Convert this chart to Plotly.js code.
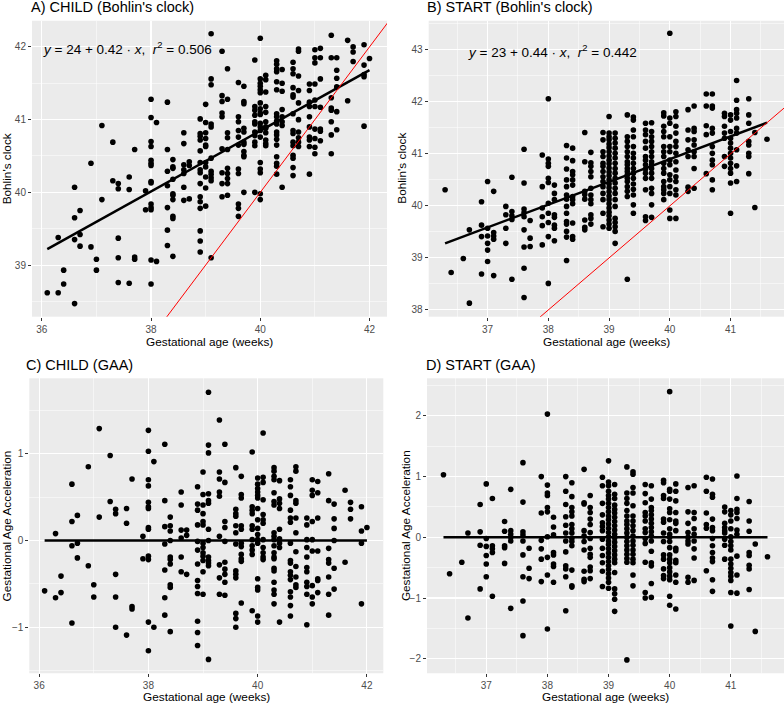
<!DOCTYPE html>
<html>
<head>
<meta charset="utf-8">
<script src="https://cdn.plot.ly/plotly-3.0.1.min.js"></script>
<style>
  html, body { margin: 0; padding: 0; background: #fff; }
  #grapharea { width: 784px; height: 705px; }
</style>
</head>
<body>
<div id="grapharea"></div>
<script>
//Gestational age columns (weeks) for each cohort
var childWeeks = [36.1, 36.3, 36.4, 36.6, 36.7, 36.9, 37.0, 37.1, 37.3, 37.4, 37.6, 37.7, 37.9, 38.0,
  38.1, 38.3, 38.4, 38.6, 38.7, 38.9, 39.0, 39.1, 39.3, 39.4, 39.6, 39.7, 39.9, 40.0, 40.1, 40.3,
  40.4, 40.6, 40.7, 40.9, 41.0, 41.1, 41.3, 41.4, 41.6, 41.7, 41.9, 42.0];
var startWeeks = [36.3, 36.4, 36.6, 36.7, 36.9, 37.0, 37.1, 37.3, 37.4, 37.6, 37.7, 37.9, 38.0, 38.1,
  38.3, 38.4, 38.6, 38.7, 38.9, 39.0, 39.1, 39.3, 39.4, 39.6, 39.7, 39.9, 40.0, 40.1, 40.3, 40.4,
  40.6, 40.7, 40.9, 41.0, 41.1, 41.3, 41.4, 41.6];

//CHILD, Bohlin's clock, one list per age column
var childClock = [
  [38.62],
  [39.38, 38.62],
  [38.93, 38.74],
  [40.07, 39.65, 39.35, 38.47],
  [39.75, 39.42, 39.26],
  [40.40, 39.25],
  [39.08, 38.93],
  [40.92, 39.90],
  [40.69, 40.16],
  [40.12, 40.05, 39.37, 39.10, 38.76],
  [40.21, 40.04, 38.75],
  [40.59, 39.11, 39.08],
  [40.02, 39.76],
  [41.28, 41.03, 40.70, 40.63, 40.44, 40.40, 40.37, 40.15, 40.13, 39.84, 39.79, 39.76, 39.07, 38.74],
  [40.96, 39.05],
  [41.24, 40.59, 40.29, 40.09, 39.79, 39.48, 39.27],
  [40.45, 40.35, 40.33, 40.18, 39.98, 39.96, 39.90, 39.67, 39.64, 39.12],
  [40.82, 40.67, 40.38, 40.31, 40.26, 40.07, 39.89],
  [40.42, 40.37, 39.91],
  [41.01, 40.81, 40.77, 40.72, 40.57, 40.41, 40.31, 40.27, 40.12, 39.94, 39.87, 39.78, 39.47, 39.33, 39.18],
  [41.21, 40.96, 40.82, 40.74, 40.65, 40.63, 40.41, 40.35, 40.21, 40.06, 39.81],
  [42.18, 41.56, 41.48, 40.94, 40.90, 40.47, 40.29, 40.25, 40.20, 40.16, 39.10],
  [41.94, 41.33, 41.25, 41.09, 41.04, 40.60, 40.27, 40.12, 39.94],
  [41.70, 41.28, 40.82, 40.75, 40.59, 40.33, 40.26, 40.19, 40.12, 39.96],
  [41.51, 41.04, 40.97, 40.85, 40.76, 40.65, 40.32, 40.26, 39.84, 39.78, 39.67],
  [41.46, 41.25, 41.22, 40.88, 40.83, 40.69, 40.66, 40.56, 40.51, 40.49, 40.00],
  [41.82, 41.18, 41.13, 41.06, 40.97, 40.94, 40.83, 40.78, 40.69, 40.64, 40.00],
  [42.12, 41.56, 41.50, 41.46, 41.41, 41.37, 41.23, 41.15, 41.09, 41.07, 40.95, 40.90, 40.85, 40.76, 40.41, 40.32, 40.27, 39.98, 39.90],
  [41.61, 41.55, 41.38, 41.18, 41.10, 40.97, 40.90, 40.88, 40.82, 40.72, 40.67, 40.64],
  [41.81, 41.76, 41.70, 41.66, 41.52, 41.41, 41.08, 41.04, 40.98, 40.94, 40.83, 40.79, 40.73, 40.65, 40.49, 40.40, 40.36, 40.25],
  [41.69, 41.50, 41.39, 41.14, 41.04, 40.97, 40.92, 40.07],
  [41.79, 41.70, 41.63, 41.44, 41.34, 41.31, 41.08, 40.85, 40.81, 40.69, 40.64, 40.51, 40.47, 40.34, 40.23],
  [41.97, 41.94, 41.60, 41.40, 41.23, 41.00, 40.83, 40.75, 40.69, 40.63],
  [41.49, 41.40, 41.24, 41.18, 41.04, 40.90, 40.76, 40.72, 40.63, 40.25],
  [41.96, 41.85, 41.78, 41.49, 41.27, 41.18, 40.87, 40.74, 40.62, 40.53],
  [41.98, 41.85, 41.56, 41.17, 40.87, 40.84, 40.71],
  [42.16, 41.85, 41.30, 41.16, 41.13, 40.97, 40.79, 40.53],
  [41.85, 41.68, 41.57, 41.45, 41.11, 40.86],
  [42.09, 41.26],
  [42.00, 41.93, 41.80],
  [42.03, 41.75, 41.62, 41.59, 40.91],
  [41.84]
];

//START, Bohlin's clock
var startClock = [
  [40.31],
  [38.72],
  [38.99],
  [39.54, 38.13],
  [40.08, 39.63, 39.41, 38.69],
  [40.47, 39.57, 39.42, 39.28, 39.15, 38.93],
  [40.28, 39.49, 39.42, 39.36, 38.66],
  [39.99, 39.83, 39.57, 39.28],
  [40.55, 39.89, 39.81, 39.74, 38.59],
  [41.09, 40.44, 39.94, 39.87, 39.79, 39.54, 39.21, 38.80, 38.24],
  [39.72, 39.38, 39.22],
  [40.98, 40.37, 39.96, 39.79, 39.62, 39.25],
  [42.06, 40.90, 40.82, 40.76, 40.53, 40.45, 40.05, 39.86, 39.68, 39.41, 38.51],
  [40.40, 40.24, 40.12, 39.83, 39.78, 39.63, 39.57, 39.33],
  [41.16, 40.92, 40.71, 40.50, 40.37, 40.21, 40.13, 39.99, 39.86, 39.70, 39.65, 39.51, 39.40, 38.95],
  [41.11, 40.87, 40.66, 40.60, 40.50, 40.40, 40.18, 40.12, 40.04, 39.67, 39.41, 39.36],
  [41.41, 40.85, 40.28, 40.22, 40.13, 39.73, 39.59, 39.54],
  [41.03, 40.83, 40.76, 40.66, 40.56, 40.34, 40.21, 40.12, 40.04, 39.83, 39.76, 39.65],
  [41.41, 41.27, 41.04, 40.95, 40.82, 40.76, 40.66, 40.56, 40.47, 40.37, 40.24, 40.12, 39.86, 39.60],
  [41.72, 41.40, 41.33, 41.27, 41.19, 41.12, 41.04, 40.96, 40.88, 40.81, 40.73, 40.65, 40.58, 40.50,
   40.42, 40.35, 40.27, 40.19, 40.12, 40.04, 39.96, 39.88, 39.81, 39.73, 39.65, 39.57],
  [41.40, 41.30, 41.21, 41.11, 41.01, 40.92, 40.82, 40.72, 40.63, 40.53, 40.44, 40.34, 40.24, 40.12,
   39.99, 39.76, 39.68, 39.60, 39.51, 39.28],
  [41.75, 41.33, 41.24, 41.14, 41.04, 40.95, 40.85, 40.79, 40.72, 40.66, 40.60, 40.53, 40.47, 40.37, 40.28, 40.18, 38.59],
  [41.71, 41.65, 41.46, 41.33, 41.14, 41.01, 40.92, 40.82, 40.72, 40.63, 40.53, 40.42, 40.32, 40.21, 40.02, 39.86],
  [41.59, 41.46, 41.37, 41.24, 41.11, 40.95, 40.88, 40.79, 40.71, 40.63, 40.53, 40.31, 39.79, 39.72],
  [41.60, 41.43, 41.33, 41.24, 41.14, 41.04, 40.95, 40.85, 40.79, 40.72, 40.63, 40.53, 40.34, 40.24, 40.02, 39.78],
  [41.79, 41.73, 41.53, 41.43, 41.33, 41.14, 41.04, 40.95, 40.82, 40.72, 40.63, 40.47, 40.37, 40.31, 40.24, 40.12],
  [43.32, 41.69, 41.59, 41.33, 41.14, 41.04, 40.88, 40.79, 40.60, 40.50, 40.37, 40.24, 39.92, 39.76],
  [41.81, 41.72, 41.53, 41.40, 41.24, 41.14, 41.01, 40.85, 40.69, 40.56, 40.47, 40.31, 40.21, 39.76],
  [41.85, 41.46, 41.27, 41.08, 40.95, 40.36, 40.28],
  [41.92, 41.49, 41.43, 41.27, 41.17, 41.04, 40.95, 40.72, 40.34],
  [42.15, 41.92, 41.54, 41.37, 40.62],
  [42.15, 41.92, 41.88, 41.49, 41.40, 41.14, 41.01, 40.88, 40.79, 40.50, 40.31],
  [41.78, 41.72, 41.53, 41.40, 41.30, 40.95, 40.76],
  [41.75, 41.65, 41.43, 41.30, 41.21, 41.11, 41.01, 40.92, 40.82, 40.72, 40.63, 40.44, 39.86],
  [42.41, 42.03, 41.85, 41.78, 41.69, 41.49, 41.40, 41.08, 40.77, 40.47],
  [42.06, 41.75, 41.59, 41.24, 41.17, 41.01, 40.95, 40.62],
  [41.41, 39.97],
  [41.28]
];

//CHILD, gestational age acceleration
var childGAA = [
  [-0.58],
  [0.08, -0.66],
  [-0.41, -0.60],
  [0.65, 0.22, -0.06, -0.95],
  [0.29, -0.03, -0.20],
  [0.85, -0.29],
  [-0.51, -0.65],
  [1.29, 0.27],
  [0.98, 0.45],
  [0.36, 0.31, -0.39, -0.65, -1.00],
  [0.37, 0.20, -1.09],
  [0.71, -0.76, -0.79],
  [0.05, -0.21],
  [1.27, 1.03, 0.70, 0.63, 0.44, 0.39, 0.37, 0.15, 0.13, -0.18, -0.22, -0.94, -1.27],
  [0.91, -1.00],
  [1.11, 0.46, 0.16, -0.04, -0.34, -0.66, -0.86],
  [0.27, 0.17, 0.11, 0.00, -0.19, -0.22, -0.27, -0.51, -0.54, -1.05],
  [0.56, 0.41, 0.12, 0.03, -0.19, -0.36],
  [0.12, 0.06, -0.39],
  [0.62, 0.42, 0.35, 0.18, -0.01, -0.11, -0.27, -0.46, -0.53, -0.61, -0.93, -1.06, -1.21],
  [0.79, 0.53, 0.41, 0.31, 0.22, 0.18, -0.03, -0.08, -0.14, -0.18, -0.23, -0.36, -0.62],
  [1.71, 1.10, 1.01, 0.54, 0.46, 0.43, 0.13, 0.00, -0.19, -0.23, -0.26, -0.29, -1.37],
  [1.39, 0.79, 0.71, 0.56, 0.51, 0.05, -0.28, -0.43, -0.62],
  [1.11, 0.67, 0.22, 0.15, -0.01, -0.25, -0.33, -0.39, -0.48, -0.63],
  [0.84, 0.36, 0.31, 0.28, 0.17, 0.09, -0.04, -0.35, -0.39, -0.43, -0.84, -0.90, -1.00],
  [0.74, 0.53, 0.49, 0.17, 0.13, -0.03, -0.07, -0.16, -0.21, -0.24, -0.72],
  [1.02, 0.39, 0.35, 0.31, 0.17, 0.13, 0.01, -0.06, -0.11, -0.16, -0.81],
  [0.72, 0.65, 0.60, 0.56, 0.52, 0.49, 0.37, 0.24, 0.14, 0.07, 0.01, -0.03, -0.44, -0.54, -0.57, -0.87, -0.94],
  [1.24, 0.73, 0.67, 0.47, 0.30, 0.24, 0.20, 0.01, -0.08, -0.14, -0.19, -0.22],
  [0.84, 0.80, 0.74, 0.70, 0.55, 0.45, 0.41, 0.09, 0.05, 0.01, -0.06, -0.14, -0.19, -0.21, -0.32, -0.35, -0.48, -0.57, -0.62, -0.73],
  [0.69, 0.48, 0.43, 0.37, 0.13, 0.02, -0.03, -0.08, -0.94],
  [0.70, 0.62, 0.52, 0.35, 0.26, 0.21, -0.03, -0.23, -0.26, -0.36, -0.40, -0.45, -0.59, -0.65, -0.75, -0.87],
  [0.85, 0.80, 0.46, 0.43, 0.26, 0.09, -0.13, -0.30, -0.42, -0.51, -0.54],
  [0.26, 0.18, 0.01, -0.08, -0.19, -0.31, -0.36, -0.48, -0.53, -0.62, -0.97],
  [0.70, 0.58, 0.52, 0.22, 0.01, -0.12, -0.52, -0.65, -0.73],
  [0.68, 0.55, 0.26, -0.12, -0.44, -0.46, -0.60],
  [0.77, 0.46, -0.09, -0.22, -0.26, -0.42, -0.62, -0.86],
  [0.42, 0.25, 0.14, 0.00, -0.32, -0.56],
  [0.58, -0.25],
  [0.44, 0.36, 0.25],
  [0.39, 0.11, -0.03, -0.73],
  [0.15]
];

//START, gestational age acceleration
var startGAA = [
  [1.03],
  [-0.60],
  [-0.41],
  [0.07, -1.33],
  [0.54, 0.09, -0.13, -0.85],
  [0.88, -0.02, -0.15, -0.30, -0.44, -0.65],
  [0.64, -0.14, -0.19, -0.25, -0.97],
  [0.26, 0.10, -0.14, -0.17, -0.43],
  [0.79, 0.11, 0.05, 0.00, -0.06, -1.17],
  [1.23, 0.58, 0.09, 0.04, -0.06, -0.29, -0.65, -1.05, -1.62],
  [-0.18, -0.51, -0.68],
  [1.00, 0.40, -0.05, -0.19, -0.36, -0.73],
  [2.03, 0.86, 0.73, 0.69, 0.49, 0.42, 0.01, -0.33, -0.62, -1.51],
  [0.33, 0.17, 0.04, -0.25, -0.29, -0.44, -0.48, -0.74],
  [1.00, 0.76, 0.54, 0.34, 0.20, 0.07, -0.06, -0.24, -0.47, -0.52, -0.65, -1.21],
  [0.90, 0.67, 0.49, 0.42, 0.35, 0.21, 0.14, 0.07, -0.02, -0.07, -0.14, -0.54, -0.80, -0.82],
  [1.12, 0.57, 0.55, 0.11, 0.02, -0.07, -0.21, -0.56, -0.69, -0.73],
  [0.69, 0.49, 0.41, 0.30, 0.21, 0.08, -0.02, -0.18, -0.28, -0.33, -0.49, -0.55, -0.68],
  [0.99, 0.85, 0.56, 0.37, 0.24, 0.18, 0.11, -0.03, -0.18, -0.30, -0.42, -0.56, -0.81],
  [1.26, 0.91, 0.85, 0.76, 0.69, 0.63, 0.56, 0.49, 0.42, 0.35, 0.29, 0.22, 0.15, 0.08, 0.01, -0.06,
   -0.12, -0.19, -0.26, -0.33, -0.40, -0.47, -0.53, -0.60, -0.67, -0.74, -0.84],
  [0.87, 0.71, 0.64, 0.53, 0.46, 0.40, 0.33, 0.26, 0.19, 0.12, 0.05, -0.01, -0.08, -0.15, -0.22,
   -0.29, -0.36, -0.42, -0.58, -0.85, -0.93, -1.02, -1.22],
  [1.16, 0.73, 0.64, 0.56, 0.44, 0.35, 0.27, 0.21, 0.14, 0.07, 0.00, -0.07, -0.14, -0.21, -0.28, -0.35, -0.41, -2.02],
  [1.08, 1.04, 0.82, 0.73, 0.52, 0.35, 0.27, 0.19, 0.11, 0.02, -0.06, -0.13, -0.21, -0.28, -0.36, -0.42, -0.62, -0.80],
  [0.87, 0.72, 0.57, 0.41, 0.35, 0.27, 0.14, 0.08, -0.02, -0.10, -0.41, -0.91, -1.00],
  [0.85, 0.63, 0.49, 0.44, 0.37, 0.30, 0.23, 0.16, 0.09, 0.02, -0.06, -0.23, -0.42, -0.47, -0.76, -0.99],
  [0.94, 0.90, 0.69, 0.64, 0.30, 0.25, 0.07, -0.07, -0.29, -0.36, -0.52, -0.63, -0.68],
  [2.40, 0.79, 0.76, 0.63, 0.47, 0.41, 0.29, 0.14, 0.05, 0.00, -0.07, -0.17, -0.29, -0.36, -0.42,
   -0.50, -0.57, -0.64, -0.70, -0.97, -1.12],
  [0.88, 0.76, 0.60, 0.41, 0.27, 0.23, 0.11, -0.18, -0.22, -0.38, -0.42, -0.62, -0.74, -1.18],
  [0.82, 0.42, 0.23, 0.08, 0.00, -0.06, -0.11, -0.66, -0.74],
  [0.85, 0.41, 0.31, 0.14, 0.05, -0.06, -0.19, -0.34, -0.71],
  [0.99, 0.76, 0.40, 0.21, 0.15, -0.55],
  [0.96, 0.71, 0.66, 0.30, 0.16, 0.11, -0.02, -0.14, -0.25, -0.34, -0.40, -0.70, -0.89],
  [0.50, 0.42, 0.23, 0.16, 0.11, 0.07, -0.03, -0.13, -0.36],
  [0.44, 0.37, 0.27, 0.14, 0.01, -0.07, -0.14, -0.21, -0.36, -0.44, -0.51, -0.58, -0.64, -0.71, -0.91, -1.46],
  [1.01, 0.64, 0.46, 0.41, 0.31, 0.12, 0.05, -0.31, -0.62, -0.92],
  [0.59, 0.27, 0.10, -0.25, -0.30, -0.46, -0.52, -0.86],
  [-0.11, -1.55],
  [-0.32]
];

//Fitted lines (end points) and the identity line
var childFitX = [36.1, 42.0], childFitY = [39.22, 41.68];
var startFitX = [36.3, 41.6], startFitY = [39.28, 41.60];
var childZeroX = [36.1, 42.0], startZeroX = [36.3, 41.6], zeroY = [0, 0];
var identity = [35, 44];

var titles = ["A) CHILD (Bohlin's clock)", "B) START (Bohlin's clock)", "C) CHILD (GAA)", "D) START (GAA)"];
var eqChild = "<i>y</i> = 24 + 0.42 \u00b7 <i>x</i>,  <i>r</i><sup>2</sup> = 0.506";
var eqStart = "<i>y</i> = 23 + 0.44 \u00b7 <i>x</i>,  <i>r</i><sup>2</sup> = 0.442";

//Turn the per-column lists into x/y arrays
function flatten(weeks, cols)
{
  var xs = [], ys = [];
  for (var i = 0; i < weeks.length; i++) {
    for (var j = 0; j < cols[i].length; j++) {
      xs.push(weeks[i]);
      ys.push(cols[i][j]);
    }
  }
  return [xs, ys];
}

function dots(pts, xa, ya)
{
  return {x: pts[0], y: pts[1], xaxis: xa, yaxis: ya, mode: 'markers', type: 'scatter',
    marker: {color: '#000', size: 5.6, line: {width: 0}}, hoverinfo: 'x+y'};
}

function line(xs, ys, xa, ya, col, w)
{
  return {x: xs, y: ys, xaxis: xa, yaxis: ya, mode: 'lines', type: 'scatter',
    line: {color: col, width: w}, hoverinfo: 'skip'};
}

function axis(dom, rng, anchor, dt, t0, mdt)
{
  return {domain: dom, range: rng, anchor: anchor, autorange: false, dtick: dt, tick0: t0,
    showgrid: true, gridcolor: '#FFFFFF', gridwidth: 1.1, zeroline: false, showline: false,
    ticks: 'outside', ticklen: 3, tickwidth: 1, tickcolor: '#333333',
    tickfont: {size: 10, color: '#4D4D4D'},
    minor: {dtick: mdt, tick0: t0, showgrid: true, gridcolor: '#FFFFFF', gridwidth: 0.5, ticks: ''}};
}

function label(txt, x, y, opts)
{
  var a = {text: txt, x: x, y: y, xref: 'paper', yref: 'paper', showarrow: false, borderpad: 0,
    xanchor: 'center', yanchor: 'middle', font: {size: 11.8, color: '#000'}};
  for (var k in opts) a[k] = opts[k];
  return a;
}

var data = [
  dots(flatten(childWeeks, childClock), 'x', 'y'),
  line(childFitX, childFitY, 'x', 'y', '#000', 2.5),
  line(identity, identity, 'x', 'y', '#FF0000', 1),
  dots(flatten(startWeeks, startClock), 'x2', 'y2'),
  line(startFitX, startFitY, 'x2', 'y2', '#000', 2.5),
  line(identity, identity, 'x2', 'y2', '#FF0000', 1),
  dots(flatten(childWeeks, childGAA), 'x3', 'y3'),
  line(childZeroX, zeroY, 'x3', 'y3', '#000', 2.5),
  dots(flatten(startWeeks, startGAA), 'x4', 'y4'),
  line(startZeroX, zeroY, 'x4', 'y4', '#000', 2.5)
];

var topY = [0.5508, 0.9706], botY = [0.0450, 0.4634];
var titleFont = {size: 14.5, color: '#000'};
var layout = {
  width: 784, height: 705,
  margin: {l: 0, r: 0, t: 0, b: 0},
  paper_bgcolor: '#FFFFFF', plot_bgcolor: '#EBEBEB',
  showlegend: false,
  font: {family: 'Liberation Sans, Arial, Helvetica, sans-serif', color: '#000'},
  xaxis: axis([0.0408, 0.4936], [35.82, 42.32], 'y', 2, 36, 1),
  yaxis: axis(topY, [38.29, 42.36], 'x', 1, 39, 0.5),
  xaxis2: axis([0.5468, 1.0], [36.03, 41.88], 'y2', 1, 37, 0.5),
  yaxis2: axis(topY, [37.87, 43.56], 'x2', 1, 38, 0.5),
  xaxis3: axis([0.0374, 0.4889], [35.82, 42.3], 'y3', 2, 36, 1),
  yaxis3: axis(botY, [-1.53, 1.87], 'x3', 1, 0, 0.5),
  xaxis4: axis([0.5446, 1.0], [36.03, 41.87], 'y4', 1, 37, 0.5),
  yaxis4: axis(botY, [-2.24, 2.62], 'x4', 1, 0, 0.5),
  annotations: [
    label(titles[0], 0.0380, 0.9895, {xanchor: 'left', font: titleFont}),
    label(titles[1], 0.5435, 0.9895, {xanchor: 'left', font: titleFont}),
    label(titles[2], 0.0316, 0.4823, {xanchor: 'left', font: titleFont}),
    label(titles[3], 0.5422, 0.4823, {xanchor: 'left', font: titleFont}),
    label("Bohlin's clock", 0.0085, 0.7607, {textangle: -90}),
    label("Bohlin's clock", 0.5128, 0.7607, {textangle: -90}),
    label('Gestational Age Acceleration', 0.0085, 0.2542, {textangle: -90}),
    label('Gestational Age Acceleration', 0.517, 0.2542, {textangle: -90}),
    label('Gestational age (weeks)', 0.2672, 0.5149, {}),
    label('Gestational age (weeks)', 0.773, 0.5149, {}),
    label('Gestational age (weeks)', 0.2631, 0.0110, {}),
    label('Gestational age (weeks)', 0.7723, 0.0110, {}),
    {text: eqChild, x: 35.98, y: 41.99, xref: 'x', yref: 'y', showarrow: false,
      xanchor: 'left', yanchor: 'middle', font: {size: 13.5, color: '#000'}},
    {text: eqStart, x: 36.65, y: 42.97, xref: 'x2', yref: 'y2', showarrow: false,
      xanchor: 'left', yanchor: 'middle', font: {size: 13.5, color: '#000'}}
  ]
};

try { Plotly.newPlot('grapharea', data, layout, {displayModeBar: false, staticPlot: true}); }
catch (err) { document.body.insertAdjacentHTML('beforeend', '<pre>' + err + '</pre>'); }
</script>
</body>
</html>
